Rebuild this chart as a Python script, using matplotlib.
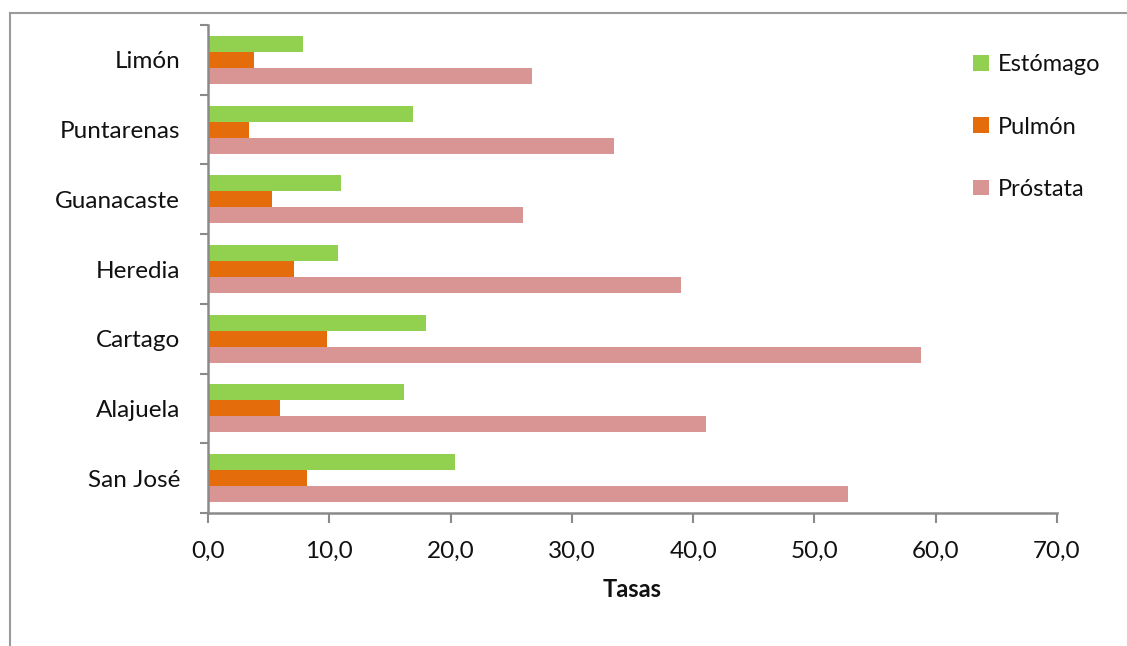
import matplotlib.pyplot as plt
import numpy as np
from matplotlib.lines import Line2D

provincias = ["San José", "Alajuela", "Cartago", "Heredia", "Guanacaste", "Puntarenas", "Limón"]
estomago = [20.4, 16.2, 18.0, 10.7, 11.0, 16.9, 7.8]
pulmon = [8.2, 5.9, 9.8, 7.1, 5.3, 3.4, 3.8]
prostata = [52.8, 41.1, 58.8, 39.0, 26.0, 33.5, 26.7]
x_ticks = [0, 10, 20, 30, 40, 50, 60, 70]

plt.rcParams["font.family"] = ["Lato", "DejaVu Sans"]

fig = plt.figure(figsize=(11.27, 6.46), dpi=100)
ax = fig.add_axes([208 / 1127, 1 - 513 / 646, (1057 - 208) / 1127, (513 - 25) / 646])

y = np.arange(len(provincias))
h = 0.23
ax.barh(y + h, estomago, height=h, color="#92D050", label="Estómago")
ax.barh(y, pulmon, height=h, color="#E46C0A", label="Pulmón")
ax.barh(y - h, prostata, height=h, color="#D99594", label="Próstata")

ax.set_xlim(0, 70)
ax.set_ylim(-0.5, len(provincias) - 0.5)
ax.set_xticks(x_ticks)
ax.set_xticklabels([f"{v:.1f}".replace(".", ",") for v in x_ticks], fontsize=17.5, color="#111111")
ax.set_yticks(y)
ax.set_yticklabels(provincias, fontsize=17.5, color="#111111")
ax.set_yticks(np.arange(-0.5, len(provincias)), minor=True)
ax.tick_params(axis="y", which="major", length=0, pad=20)
ax.tick_params(axis="y", which="minor", length=6, width=1.5, color="#8a8a8a", direction="out")
ax.tick_params(axis="x", length=7, width=1.5, color="#8a8a8a", direction="out", pad=13)

for s in ["top", "right"]:
    ax.spines[s].set_visible(False)
for s in ["left", "bottom"]:
    ax.spines[s].set_color("#8a8a8a")
    ax.spines[s].set_linewidth(1.8)

ax.set_xlabel("Tasas", fontsize=17, fontweight="bold", labelpad=12, color="#111111")

leg = ax.legend(loc="upper left", bbox_to_anchor=(952 / 1127, 1 - 33 / 646), bbox_transform=fig.transFigure,
                frameon=False, fontsize=17, handlelength=0.65, handleheight=0.65, handletextpad=0.4,
                labelspacing=1.75)
for t in leg.get_texts():
    t.set_color("#111111")

# outer frame (partially cropped in the original)
fig.add_artist(Line2D([10 / 1127, 10 / 1127], [0, 1 - 13 / 646], color="#9a9a9a", lw=1.5))
fig.add_artist(Line2D([10 / 1127, 1], [1 - 13 / 646, 1 - 13 / 646], color="#9a9a9a", lw=1.5))

fig.savefig("out.png", dpi=100)
